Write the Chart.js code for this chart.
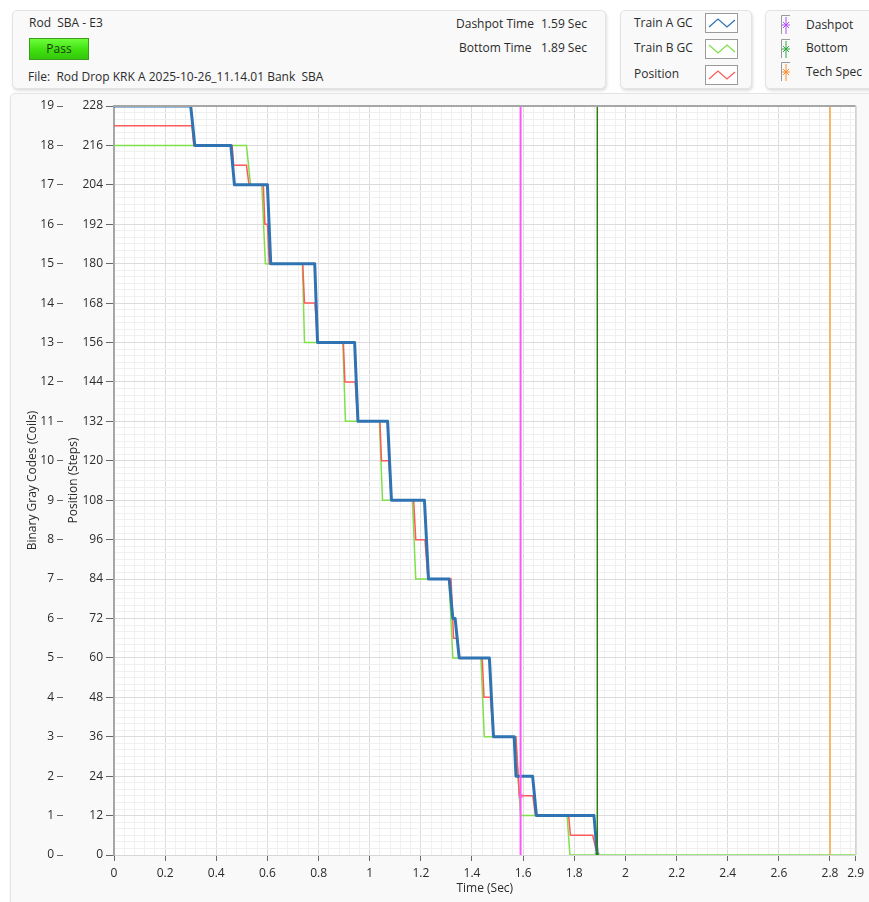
<!DOCTYPE html>
<html>
<head>
<meta charset="utf-8">
<title>Rod Drop SBA - E3</title>
<script src="https://cdn.jsdelivr.net/npm/chart.js@4.4.0/dist/chart.umd.min.js"></script>
<style>
  body { margin: 0; width: 869px; height: 902px; overflow: hidden; position: relative; background: #ffffff;
         font-family: "Open Sans", "Noto Sans", sans-serif; font-size: 12px; color: #2b2b2b; }
  .panel { position: absolute; background: #f9f9f9; border: 1px solid #e3e3e3; border-radius: 5px;
           box-shadow: 1px 2px 3px rgba(0,0,0,0.13); }
  .txt { position: absolute; white-space: pre; line-height: 16px; }
  .pass { position: absolute; left: 29px; top: 38px; width: 60px; height: 22px; box-sizing: border-box;
          border: 1px solid #3c9a1c; background: linear-gradient(#6dff3a, #3fe010 55%, #34c80a);
          text-align: center; line-height: 20px; color: #1d3a10; }
  .icon { position: absolute; }
  #chartWrap { position: absolute; left: 10px; top: 93px; width: 859px; height: 809px; }
</style>
</head>
<body>
<div class="panel" style="left:12px;top:10px;width:592px;height:77px;"></div>
<div class="panel" style="left:620px;top:10px;width:130px;height:77px;"></div>
<div class="panel" style="left:765px;top:10px;width:110px;height:77px;"></div>
<div class="panel" style="left:10px;top:93px;width:865px;height:815px;border-radius:5px 0 0 0;"></div>

<div class="txt" style="left:29px;top:15px;">Rod  SBA - E3</div>
<div class="pass">Pass</div>
<div class="txt" style="left:28px;top:69px;">File:  Rod Drop KRK A 2025-10-26_11.14.01 Bank  SBA</div>

<div class="txt" style="left:456px;top:16px;">Dashpot Time</div>
<div class="txt" style="left:541px;top:16px;">1.59 Sec</div>
<div class="txt" style="left:459px;top:40px;">Bottom Time</div>
<div class="txt" style="left:541px;top:40px;">1.89 Sec</div>

<div class="txt" style="left:634px;top:15px;">Train A GC</div>
<svg class="icon" style="left:705px;top:13px;" width="33" height="20"><rect x="0.5" y="0.5" width="32" height="19" fill="#fff" stroke="#9a9a9a"/><polyline points="4,14 13,6 22,14 30,7" fill="none" stroke="#2f73b3" stroke-width="1.3"/></svg>
<div class="txt" style="left:634px;top:40px;">Train B GC</div>
<svg class="icon" style="left:705px;top:39px;" width="33" height="20"><rect x="0.5" y="0.5" width="32" height="19" fill="#fff" stroke="#9a9a9a"/><polyline points="4,6 13,14 22,6 30,13" fill="none" stroke="#7fe04a" stroke-width="1.3"/></svg>
<div class="txt" style="left:634px;top:66px;">Position</div>
<svg class="icon" style="left:705px;top:65px;" width="33" height="20"><rect x="0.5" y="0.5" width="32" height="19" fill="#fff" stroke="#9a9a9a"/><polyline points="4,14 13,6 22,14 30,7" fill="none" stroke="#ff5a5a" stroke-width="1.3"/></svg>

<svg class="icon" style="left:781px;top:15px;" width="10" height="20"><path d="M0.5,19 V0.5 H9" fill="none" stroke="#999"/><line x1="5" y1="2" x2="5" y2="19" stroke="#b24cff"/><path d="M2,7 L8,13 M8,7 L2,13 M1,10 H9" stroke="#b24cff"/></svg>
<div class="txt" style="left:806px;top:17px;">Dashpot</div>
<svg class="icon" style="left:781px;top:39px;" width="10" height="20"><path d="M0.5,19 V0.5 H9" fill="none" stroke="#999"/><line x1="5" y1="2" x2="5" y2="19" stroke="#2aa83a"/><path d="M2,7 L8,13 M8,7 L2,13 M1,10 H9" stroke="#2aa83a"/></svg>
<div class="txt" style="left:806px;top:40px;">Bottom</div>
<svg class="icon" style="left:781px;top:62px;" width="10" height="20"><path d="M0.5,19 V0.5 H9" fill="none" stroke="#999"/><line x1="5" y1="2" x2="5" y2="19" stroke="#ff8a2a"/><path d="M2,7 L8,13 M8,7 L2,13 M1,10 H9" stroke="#ff8a2a"/></svg>
<div class="txt" style="left:806px;top:64px;">Tech Spec</div>

<div id="chartWrap"><canvas id="rodChart" width="859" height="809"></canvas></div>

<script>
// Train A gray code (steps), time in seconds
const timeA  = [0, 0.300, 0.316, 0.457, 0.471, 0.600, 0.613, 0.785, 0.796, 0.941, 0.954, 1.070, 1.085,
                1.214, 1.230, 1.311, 1.325, 1.334, 1.350, 1.468, 1.484, 1.565, 1.572, 1.637, 1.652, 1.877, 1.890];
const stepsA = [228, 228, 216, 216, 204, 204, 180, 180, 156, 156, 132, 132, 108,
                108, 84, 84, 72, 72, 60, 60, 36, 36, 24, 24, 12, 12, 0];

// Train B gray code
const timeB  = [0, 0.518, 0.534, 0.578, 0.592, 0.737, 0.745, 0.895, 0.905, 1.038, 1.050, 1.167, 1.180,
                1.310, 1.325, 1.435, 1.448, 1.570, 1.590, 1.772, 1.783, 2.9];
const stepsB = [216, 216, 204, 204, 180, 180, 156, 156, 132, 132, 108, 108, 84,
                84, 60, 60, 36, 36, 12, 12, 0, 0];

// Position
const timePos  = [0, 0.305, 0.312, 0.462, 0.468, 0.518, 0.528, 0.584, 0.590, 0.600, 0.607, 0.738, 0.745,
                  0.786, 0.796, 0.897, 0.903, 0.943, 0.954, 1.040, 1.046, 1.075, 1.085, 1.172, 1.180,
                  1.216, 1.228, 1.318, 1.328, 1.343, 1.350, 1.440, 1.447, 1.472, 1.484, 1.572, 1.585,
                  1.638, 1.648, 1.778, 1.785, 1.872, 1.890];
const stepsPos = [222, 222, 216, 216, 210, 210, 204, 204, 192, 192, 180, 180, 168,
                  168, 156, 156, 144, 144, 132, 132, 120, 120, 108, 108, 96,
                  96, 84, 84, 66, 66, 60, 60, 48, 48, 36, 36, 18,
                  18, 12, 12, 6, 6, 0];

const dashpotTime = 1.59;
const dashpotStep = 18;
const bottomTime = 1.89;
const bottomStep = 0;
const techSpecTime = 2.8;

const xTickLabels = [0, 0.2, 0.4, 0.6, 0.8, 1, 1.2, 1.4, 1.6, 1.8, 2, 2.2, 2.4, 2.6, 2.8, 2.9];
const stepTicks = [0, 12, 24, 36, 48, 60, 72, 84, 96, 108, 120, 132, 144, 156, 168, 180, 192, 204, 216, 228];
const coilTicks = [0, 1, 2, 3, 4, 5, 6, 7, 8, 9, 10, 11, 12, 13, 14, 15, 16, 17, 18, 19];

const xMinor = 0.04;
const yMinor = 2;

function pairs(xs, ys) {
  return xs.map((x, i) => ({ x: x, y: ys[i] }));
}

const stepMin = stepTicks[0];
const stepMax = stepTicks[stepTicks.length - 1];

function vline(t) {
  return [{ x: t, y: stepMin }, { x: t, y: stepMax }];
}

function withMinor(majors, minorStep) {
  const lo = majors[0], hi = majors[majors.length - 1];
  const list = [];
  const n = Math.floor((hi - lo) / minorStep + 1e-6);
  for (let i = 0; i <= n; i++) {
    const v = +(lo + i * minorStep).toFixed(6);
    list.push({ value: v, major: majors.some(m => Math.abs(m - v) < 1e-6) });
  }
  majors.forEach(m => {
    if (!list.some(t => Math.abs(t.value - m) < 1e-6)) list.push({ value: m, major: true });
  });
  return list.sort((a, b) => a.value - b.value);
}

const gridColor = ctx => (ctx.tick && ctx.tick.major) ? '#dcdcdc' : '#f0f0f0';
const tickMarkColor = ctx => (ctx.tick && ctx.tick.major) ? '#666' : 'rgba(0,0,0,0)';

const framePlugin = {
  id: 'frame',
  beforeDraw(chart) {
    const a = chart.chartArea, c = chart.ctx;
    c.save();
    c.fillStyle = '#ffffff';
    c.fillRect(a.left, a.top, a.right - a.left, a.bottom - a.top);
    c.restore();
  },
  afterDraw(chart) {
    const a = chart.chartArea, c = chart.ctx;
    c.save();
    c.strokeStyle = '#a6a6a6';
    c.lineWidth = 2;
    c.beginPath();
    c.moveTo(a.left, a.top);
    c.lineTo(a.right, a.top);
    c.stroke();
    c.lineWidth = 1;
    c.strokeStyle = '#c8c8c8';
    c.beginPath();
    c.moveTo(a.right + 0.5, a.top);
    c.lineTo(a.right + 0.5, a.bottom);
    c.stroke();
    c.restore();
  }
};

const font = { family: '"Open Sans", "Noto Sans", sans-serif', size: 12 };

new Chart(document.getElementById('rodChart'), {
  type: 'line',
  data: {
    datasets: [
      { label: 'Dashpot', data: vline(dashpotTime), borderColor: '#ff55ff', borderWidth: 2, pointRadius: 0 },
      { label: 'Bottom', data: vline(bottomTime), borderColor: '#2e7d10', borderWidth: 1.5, pointRadius: 0 },
      { label: 'Tech Spec', data: vline(techSpecTime), borderColor: '#f5a742', borderWidth: 1.5, pointRadius: 0 },
      { label: 'Dashpot mark', data: [{ x: dashpotTime, y: dashpotStep }], showLine: false,
        pointStyle: 'crossRot', pointRadius: 3, borderColor: '#ff55ff', borderWidth: 1 },
      { label: 'Bottom mark', data: [{ x: bottomTime, y: bottomStep }], showLine: false,
        pointStyle: 'crossRot', pointRadius: 3, borderColor: '#2e7d10', borderWidth: 1 },
      { label: 'Train A GC', data: pairs(timeA, stepsA), borderColor: '#2f73b3', borderWidth: 3,
        pointRadius: 0, borderJoinStyle: 'round' },
      { label: 'Position', data: pairs(timePos, stepsPos), borderColor: '#ff5a5a', borderWidth: 1.5, pointRadius: 0 },
      { label: 'Train B GC', data: pairs(timeB, stepsB), borderColor: '#7fe04a', borderWidth: 1.5, pointRadius: 0 }
    ]
  },
  options: {
    responsive: false,
    animation: false,
    devicePixelRatio: 1,
    layout: { padding: { top: 13, right: 12, left: 0, bottom: 0 } },
    plugins: { legend: { display: false }, tooltip: { enabled: false } },
    scales: {
      x: {
        type: 'linear',
        min: xTickLabels[0],
        max: xTickLabels[xTickLabels.length - 1],
        afterBuildTicks: s => { s.ticks = withMinor(xTickLabels, xMinor); },
        afterFit: s => { s.height = 47; },
        ticks: {
          autoSkip: false, maxRotation: 0, padding: 5, color: '#2b2b2b', font: font,
          callback: (v, i, ticks) => ticks[i].major ? String(Math.round(v * 10) / 10) : ''
        },
        grid: { color: gridColor, tickColor: tickMarkColor, tickLength: 6 },
        border: { color: '#d6d6d6', width: 1 },
        title: { display: true, text: 'Time (Sec)', color: '#2b2b2b', font: font, padding: { top: 0, bottom: 6 } }
      },
      y: {
        type: 'linear',
        position: 'left',
        weight: 0,
        min: stepMin,
        max: stepMax,
        afterBuildTicks: s => { s.ticks = withMinor(stepTicks, yMinor); },
        afterFit: s => { s.width = 51; },
        ticks: {
          autoSkip: false, padding: 3, color: '#2b2b2b', font: font,
          callback: (v, i, ticks) => ticks[i].major ? String(v) : ''
        },
        grid: { color: gridColor, tickColor: tickMarkColor, tickLength: 8 },
        border: { color: '#a6a6a6', width: 2 },
        title: { display: true, text: 'Position (Steps)', color: '#2b2b2b', font: font, padding: { top: 3, bottom: 0 } }
      },
      coils: {
        type: 'linear',
        position: 'left',
        weight: 1,
        min: coilTicks[0],
        max: coilTicks[coilTicks.length - 1],
        afterBuildTicks: s => { s.ticks = coilTicks.map(v => ({ value: v })); },
        afterFit: s => { s.width = 53; },
        ticks: { autoSkip: false, padding: 3, color: '#2b2b2b', font: font },
        grid: { drawOnChartArea: false, tickColor: '#666', tickLength: 6 },
        border: { display: false },
        title: { display: true, text: 'Binary Gray Codes (Coils)', color: '#2b2b2b', font: font, padding: { top: 15, bottom: 0 } }
      }
    }
  },
  plugins: [framePlugin]
});
</script>
</body>
</html>
